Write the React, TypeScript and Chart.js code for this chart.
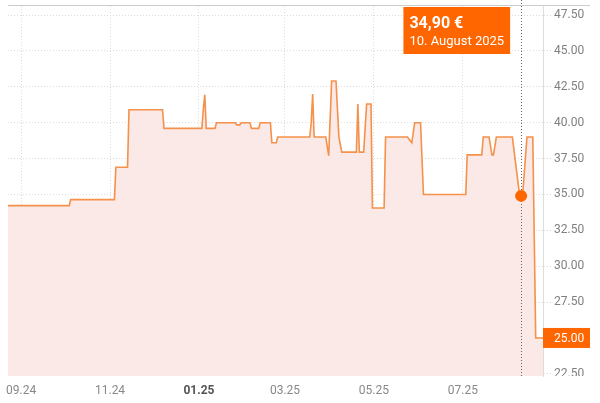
import React, { useEffect, useRef } from 'react';
import { Chart, registerables } from 'chart.js';

Chart.register(...registerables);

// ---- data ----
const dates = [
  '2024-08-23', '2024-10-04', '2024-10-05', '2024-11-04', '2024-11-05', '2024-11-13', '2024-11-14',
  '2024-12-07', '2024-12-08', '2025-01-03', '2025-01-04', '2025-01-05', '2025-01-06', '2025-01-12',
  '2025-01-13', '2025-01-26', '2025-01-27', '2025-01-29', '2025-01-30', '2025-02-05', '2025-02-06',
  '2025-02-11', '2025-02-12', '2025-02-19', '2025-02-20', '2025-02-23', '2025-02-24', '2025-03-18',
  '2025-03-19', '2025-03-20', '2025-03-21', '2025-03-29', '2025-03-31', '2025-04-02', '2025-04-05',
  '2025-04-07', '2025-04-09', '2025-04-19', '2025-04-20', '2025-04-21', '2025-04-24', '2025-04-26',
  '2025-04-29', '2025-04-30', '2025-05-08', '2025-05-09', '2025-05-24', '2025-05-27', '2025-05-29',
  '2025-06-02', '2025-06-04', '2025-07-03', '2025-07-04', '2025-07-14', '2025-07-15', '2025-07-19',
  '2025-07-21', '2025-07-22', '2025-07-24', '2025-08-04', '2025-08-09', '2025-08-11', '2025-08-14',
  '2025-08-18', '2025-08-20', '2025-08-25',
];
const prices = [
  34.22, 34.22, 34.64, 34.64, 36.9, 36.9, 40.9,
  40.9, 39.6, 39.6, 40.95, 41.95, 39.6, 39.6,
  40.0, 40.0, 39.85, 39.85, 40.0, 40.0, 39.6,
  39.6, 40.0, 40.0, 38.6, 38.6, 39.0, 39.0,
  40.0, 42.0, 39.0, 39.0, 37.7, 42.9, 42.9,
  39.0, 37.95, 37.95, 41.3, 37.95, 37.95, 41.3,
  41.3, 34.06, 34.06, 39.0, 39.0, 38.6, 40.0,
  40.0, 35.0, 35.0, 37.76, 37.76, 39.0, 39.0,
  37.76, 37.76, 39.0, 39.0, 34.9, 34.9, 39.0,
  39.0, 25.0, 25.0,
];
const xTickDates = ['2024-09-01', '2024-11-01', '2025-01-01', '2025-03-01', '2025-05-01', '2025-07-01'];
const xTickLabels = ['09.24', '11.24', '01.25', '03.25', '05.25', '07.25'];
const boldTickLabel = '01.25';
const yTicks = [22.5, 25, 27.5, 30, 32.5, 35, 37.5, 40, 42.5, 45, 47.5];
const xRange = ['2024-08-23', '2025-08-25'];
const yRange = [22.35, 48.13];
const markerDate = '2025-08-10';
const markerPrice = 34.9;
const markerDateLabel = '10. August 2025';
const currentPrice = 25.0;

const DAY0 = Date.UTC(2024, 8, 1);
const toDay = (s: string) => (Date.parse(s + 'T00:00:00Z') - DAY0) / 86400000;

const ORANGE = '#ff6600';
const LINE = '#f5914a';
const FILL = '#fbe9e7';
const FONT = 'Roboto, "Noto Sans", sans-serif';

const overlay = {
  id: 'overlay',
  afterDatasetDraw(chart: any, args: any) {
    if (args.index !== 0) return;
    const { ctx, chartArea } = chart;
    const x = Math.round(chart.scales.x.getPixelForValue(toDay(markerDate))) + 0.5;
    ctx.save();
    ctx.strokeStyle = '#666';
    ctx.lineWidth = 1;
    ctx.setLineDash([1, 2]);
    ctx.beginPath();
    ctx.moveTo(x, 0);
    ctx.lineTo(x, chartArea.bottom);
    ctx.stroke();
    ctx.restore();
  },
  afterDraw(chart: any) {
    const { ctx, chartArea, width, height } = chart;
    const ys = chart.scales.y;
    ctx.save();
    // top line
    ctx.fillStyle = '#cccccc';
    ctx.fillRect(chartArea.left, chartArea.top - 1, 590 - chartArea.left, 1);
    // clip below plot on the right axis
    ctx.fillStyle = '#ffffff';
    ctx.fillRect(chartArea.right + 1, chartArea.bottom, width - chartArea.right, height - chartArea.bottom);
    // current price label
    const cy = ys.getPixelForValue(currentPrice);
    ctx.fillStyle = ORANGE;
    ctx.fillRect(chartArea.right, cy - 10, 47, 20);
    ctx.fillStyle = '#ffffff';
    ctx.font = '12px ' + FONT;
    ctx.textBaseline = 'middle';
    ctx.textAlign = 'left';
    ctx.fillText(currentPrice.toFixed(2), chartArea.right + 11, cy + 1);
    // tooltip
    const mx = chart.scales.x.getPixelForValue(toDay(markerDate));
    const priceText = markerPrice.toFixed(2).replace('.', ',') + ' \u20ac';
    ctx.font = 'bold 16px ' + FONT;
    const w1 = ctx.measureText(priceText).width;
    ctx.font = '13px ' + FONT;
    const w2 = ctx.measureText(markerDateLabel).width;
    const bw = Math.max(w1, w2) + 12;
    const bx = mx - 11 - bw;
    const by = chartArea.top + 1;
    ctx.fillStyle = ORANGE;
    ctx.fillRect(bx, by, bw, 47);
    ctx.fillStyle = '#ffffff';
    ctx.textBaseline = 'alphabetic';
    ctx.font = 'bold 16px ' + FONT;
    ctx.fillText(priceText, bx + 6, by + 21);
    ctx.font = '13px ' + FONT;
    ctx.fillText(markerDateLabel, bx + 6, by + 38);
    ctx.restore();
  },
};

export default function App() {
  const ref = useRef<HTMLCanvasElement>(null);
  useEffect(() => {
    if (!ref.current) return;
    const chart = new Chart(ref.current, {
      type: 'line',
      data: {
        datasets: [
          {
            data: dates.map((d, i) => ({ x: toDay(d), y: prices[i] })),
            borderColor: LINE,
            borderWidth: 1.6,
            backgroundColor: FILL,
            fill: 'start',
            pointRadius: 0,
            tension: 0,
            order: 1,
          },
          {
            data: [{ x: toDay(markerDate), y: markerPrice }],
            pointRadius: 6,
            pointBackgroundColor: ORANGE,
            pointBorderWidth: 0,
            showLine: false,
            order: 0,
          },
        ],
      },
      options: {
        animation: false,
        responsive: false,
        events: [],
        layout: { padding: { left: 8, top: 5, right: 0, bottom: 0 } },
        plugins: { legend: { display: false }, tooltip: { enabled: false } },
        scales: {
          x: {
            type: 'linear',
            min: toDay(xRange[0]),
            max: toDay(xRange[1]),
            afterBuildTicks: (axis: any) => {
              axis.ticks = xTickDates.map((d) => ({ value: toDay(d) }));
            },
            afterFit: (axis: any) => {
              axis.height = 27;
              axis.paddingLeft = 0;
              axis.paddingRight = 0;
            },
            ticks: {
              autoSkip: false,
              maxRotation: 0,
              padding: 8,
              callback: (_v: any, i: number) => xTickLabels[i],
              color: (ctx: any) => (xTickLabels[ctx.index] === boldTickLabel ? '#555' : '#888'),
              font: (ctx: any) => ({
                family: FONT,
                size: 12,
                weight: xTickLabels[ctx.index] === boldTickLabel ? 'bold' : 'normal',
              }),
            },
            grid: { color: '#dcdcdc', drawTicks: false },
            border: { display: false, dash: [1, 2] },
          },
          y: {
            type: 'linear',
            position: 'right',
            min: yRange[0],
            max: yRange[1],
            afterBuildTicks: (axis: any) => {
              axis.ticks = yTicks.map((v) => ({ value: v }));
            },
            afterFit: (axis: any) => {
              axis.width = 57;
              axis.paddingTop = 0;
              axis.paddingBottom = 0;
            },
            ticks: {
              padding: 3,
              callback: (v: any) => Number(v).toFixed(2),
              color: (ctx: any) => (ctx.tick && ctx.tick.value === currentPrice ? 'rgba(0,0,0,0)' : '#808080'),
              font: { family: FONT, size: 12 },
            },
            grid: { color: '#dcdcdc', tickLength: 8, tickBorderDash: [1, 2] },
            border: { display: true, color: '#dddddd', dash: [1, 2] },
          },
        },
      },
      plugins: [overlay],
    } as any);
    return () => chart.destroy();
  }, []);
  return (
    <div style={{ position: 'fixed', left: 0, top: 0, width: 600, height: 403, background: '#fff' }}>
      <canvas ref={ref} width={600} height={403} />
    </div>
  );
}
